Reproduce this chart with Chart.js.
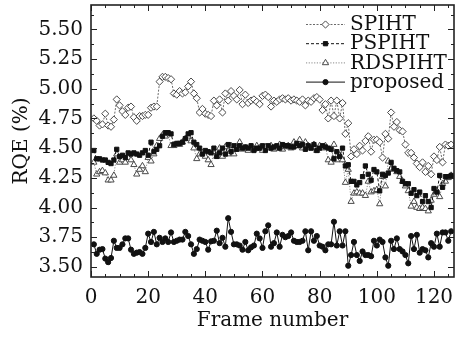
<!DOCTYPE html>
<html>
<head>
<meta charset="utf-8">
<script src="https://cdn.jsdelivr.net/npm/chart.js@4/dist/chart.umd.min.js"></script>
<style>
  html, body { margin: 0; padding: 0; background: #fff; }
  canvas { display: block; }
</style>
</head>
<body>
<canvas id="rqeChart" width="459" height="337"></canvas>
<script>
// RQE per frame
var spiht = [
  4.75, 4.73, 4.69, 4.70, 4.79, 4.69, 4.68, 4.74, 4.91, 4.86,
  4.81, 4.78, 4.84, 4.85, 4.76, 4.73, 4.77, 4.77, 4.78, 4.78,
  4.84, 4.85, 4.85, 5.06, 5.10, 5.10, 5.09, 5.08, 4.96, 4.95,
  4.98, 4.96, 4.97, 5.02, 5.06, 4.96, 4.92, 4.80, 4.83, 4.79,
  4.78, 4.77, 4.90, 4.86, 4.91, 4.80, 4.96, 4.90, 4.98, 4.94,
  4.91, 4.99, 4.87, 4.95, 4.88, 4.90, 4.91, 4.89, 4.87, 4.94,
  4.95, 4.93, 4.85, 4.90, 4.89, 4.91, 4.92, 4.91, 4.92, 4.90,
  4.91, 4.90, 4.89, 4.91, 4.86, 4.90, 4.89, 4.92, 4.93, 4.91,
  4.82, 4.87, 4.75, 4.90, 4.77, 4.90, 4.75, 4.88, 4.62, 4.71,
  4.43, 4.49, 4.45, 4.52, 4.48, 4.56, 4.60, 4.47, 4.57, 4.57,
  4.55, 4.42, 4.62, 4.58, 4.80, 4.68, 4.72, 4.65, 4.64, 4.53,
  4.46, 4.46, 4.42, 4.37, 4.34, 4.38, 4.30, 4.35, 4.28, 4.43,
  4.40, 4.51, 4.38, 4.53, 4.52, 4.53
];

var pspiht = [
  4.48, 4.41, 4.41, 4.40, 4.40, 4.38, 4.37, 4.40, 4.49, 4.43,
  4.44, 4.42, 4.46, 4.45, 4.46, 4.45, 4.44, 4.46, 4.48, 4.44,
  4.55, 4.47, 4.49, 4.52, 4.60, 4.63, 4.63, 4.62, 4.53, 4.54,
  4.54, 4.55, 4.58, 4.62, 4.63, 4.55, 4.53, 4.50, 4.45, 4.48,
  4.47, 4.46, 4.50, 4.43, 4.46, 4.50, 4.45, 4.53, 4.47, 4.52,
  4.49, 4.52, 4.50, 4.51, 4.50, 4.52, 4.48, 4.50, 4.50, 4.52,
  4.48, 4.52, 4.50, 4.51, 4.52, 4.50, 4.53, 4.52, 4.52, 4.51,
  4.51, 4.54, 4.52, 4.53, 4.49, 4.52, 4.50, 4.53, 4.48, 4.50,
  4.52, 4.51, 4.50, 4.49, 4.41, 4.47, 4.43, 4.50, 4.35, 4.36,
  4.22, 4.22, 4.19, 4.21, 4.26, 4.35, 4.28, 4.23, 4.32, 4.30,
  4.14, 4.28, 4.27, 4.29, 4.38, 4.33, 4.31, 4.30, 4.22, 4.20,
  4.20, 4.12, 4.15, 4.10, 4.13, 4.05, 4.10, 4.05, 4.00, 4.16,
  4.13, 4.27, 4.17, 4.26, 4.26, 4.27
];

var rdspiht = [
  4.38, 4.28, 4.30, 4.31, 4.29, 4.23, 4.23, 4.27, 4.45, 4.38,
  4.40, 4.38, 4.42, 4.40, 4.36, 4.28, 4.32, 4.35, 4.30, 4.42,
  4.39, 4.45, 4.52, 4.58, 4.61, 4.60, 4.62, 4.52, 4.52, 4.53,
  4.53, 4.55, 4.58, 4.60, 4.56, 4.50, 4.41, 4.45, 4.46, 4.43,
  4.40, 4.36, 4.47, 4.43, 4.50, 4.43, 4.51, 4.45, 4.52, 4.45,
  4.50, 4.55, 4.49, 4.50, 4.48, 4.51, 4.49, 4.52, 4.50, 4.48,
  4.51, 4.50, 4.52, 4.49, 4.50, 4.53, 4.49, 4.51, 4.52, 4.50,
  4.55, 4.52, 4.57, 4.50, 4.55, 4.52, 4.50, 4.53, 4.48, 4.52,
  4.50, 4.52, 4.40, 4.38, 4.53, 4.40, 4.44, 4.40, 4.21, 4.32,
  4.05, 4.12, 4.13, 4.12, 4.12, 4.10, 4.22, 4.13, 4.14, 4.15,
  4.03, 4.26, 4.18, 4.39, 4.33, 4.32, 4.30, 4.26, 4.22, 4.18,
  4.14, 4.01, 4.05, 4.00, 3.99, 4.00, 3.99, 3.97, 4.06, 4.11,
  4.14, 4.09, 4.20, 4.22, 4.25, 4.27
];

var proposed = [
  3.69, 3.61, 3.645, 3.65, 3.57, 3.54, 3.575, 3.72, 3.66, 3.66,
  3.69, 3.74, 3.74, 3.645, 3.61, 3.62, 3.625, 3.61, 3.66, 3.78,
  3.71, 3.795, 3.69, 3.745, 3.71, 3.74, 3.71, 3.79, 3.71, 3.72,
  3.73, 3.73, 3.795, 3.76, 3.69, 3.61, 3.65, 3.73, 3.72, 3.71,
  3.645, 3.715, 3.72, 3.805, 3.70, 3.745, 3.67, 3.91, 3.795, 3.69,
  3.69, 3.68, 3.645, 3.71, 3.64, 3.665, 3.68, 3.78, 3.74, 3.66,
  3.80, 3.85, 3.67, 3.70, 3.79, 3.67, 3.77, 3.75, 3.76, 3.79,
  3.72, 3.71, 3.71, 3.72, 3.80, 3.64, 3.80, 3.72, 3.76, 3.68,
  3.67, 3.64, 3.69, 3.69, 3.88, 3.68, 3.80, 3.68, 3.80, 3.51,
  3.60, 3.71, 3.60, 3.55, 3.63, 3.60, 3.60, 3.59, 3.72, 3.68,
  3.73, 3.71, 3.58, 3.51, 3.72, 3.65, 3.74, 3.65, 3.63, 3.60,
  3.53, 3.76, 3.65, 3.77, 3.62, 3.65, 3.64, 3.58, 3.70, 3.67,
  3.78, 3.67, 3.79, 3.79, 3.72, 3.80
];

var seriesNames = ["SPIHT", "PSPIHT", "RDSPIHT", "proposed"];
var xTickValues = [0, 20, 40, 60, 80, 100, 120];
var yTickValues = [3.50, 3.75, 4.00, 4.25, 4.50, 4.75, 5.00, 5.25, 5.50];

var FONT = "'DejaVu Serif', 'Liberation Serif', serif";

function toPoints(arr) {
  return arr.map(function (v, i) { return { x: i + 1, y: v }; });
}

var styles = [
  { color: "#6a6a6a", dash: [2, 1.5], pointStyle: "rectRot", radius: 3.6, fill: "#ffffff", pointBorder: "#4a4a4a" },
  { color: "#111111", dash: [3, 2], pointStyle: "rect", radius: 3, fill: "#111111", pointBorder: "#111111" },
  { color: "#8a8a8a", dash: [1.2, 1.5], pointStyle: "triangle", radius: 3.6, fill: "#ffffff", pointBorder: "#4a4a4a" },
  { color: "#111111", dash: [], pointStyle: "circle", radius: 2.6, fill: "#111111", pointBorder: "#111111" }
];

var allSeries = [spiht, pspiht, rdspiht, proposed];

var datasets = allSeries.map(function (arr, i) {
  var s = styles[i];
  return {
    label: seriesNames[i],
    data: toPoints(arr),
    borderColor: s.color,
    borderWidth: 1,
    borderDash: s.dash,
    pointStyle: s.pointStyle,
    pointRadius: s.radius,
    pointBackgroundColor: s.fill,
    pointBorderColor: s.pointBorder,
    pointBorderWidth: 1,
    tension: 0
  };
});

// frame + inward ticks on all four sides
var framePlugin = {
  id: "frame",
  afterDatasetsDraw: function (chart) {
    var ctx = chart.ctx, ca = chart.chartArea;
    var xs = chart.scales.x, ys = chart.scales.y;
    ctx.save();
    ctx.strokeStyle = "#222";
    ctx.lineWidth = 1;
    for (var v = 0; v <= xs.max; v += 5) {
      var px = Math.round(xs.getPixelForValue(v)) + 0.5;
      var len = (v % 20 === 0) ? 6 : 3;
      ctx.beginPath();
      ctx.moveTo(px, ca.bottom); ctx.lineTo(px, ca.bottom - len);
      ctx.moveTo(px, ca.top); ctx.lineTo(px, ca.top + len);
      ctx.stroke();
    }
    for (var k = 0; ; k++) {
      var yv = 3.5 + k * 0.125;
      if (yv > ys.max) break;
      var py = Math.round(ys.getPixelForValue(yv)) + 0.5;
      var ylen = (k % 2 === 0) ? 6 : 3;
      ctx.beginPath();
      ctx.moveTo(ca.left, py); ctx.lineTo(ca.left + ylen, py);
      ctx.moveTo(ca.right, py); ctx.lineTo(ca.right - ylen, py);
      ctx.stroke();
    }
    ctx.lineWidth = 1.6;
    ctx.strokeRect(ca.left, ca.top, ca.right - ca.left, ca.bottom - ca.top);
    ctx.restore();
  }
};

// legend with line sample + marker, inside the top right corner
var legendPlugin = {
  id: "lineLegend",
  afterDraw: function (chart) {
    var ctx = chart.ctx, ca = chart.chartArea;
    ctx.save();
    chart.data.datasets.forEach(function (ds, i) {
      var y = ca.top + 19 + i * 19.2;
      var x0 = ca.right - 148, x1 = ca.right - 109;
      ctx.strokeStyle = ds.borderColor;
      ctx.lineWidth = 1;
      ctx.setLineDash(ds.borderDash);
      ctx.beginPath();
      ctx.moveTo(x0, y + 0.5); ctx.lineTo(x1, y + 0.5);
      ctx.stroke();
      ctx.setLineDash([]);
      ctx.fillStyle = ds.pointBackgroundColor;
      ctx.strokeStyle = ds.pointBorderColor;
      Chart.helpers.drawPoint(ctx, {
        pointStyle: ds.pointStyle, radius: ds.pointRadius, rotation: 0, borderWidth: 1
      }, (x0 + x1) / 2, y + 0.5);
      ctx.fillStyle = "#111";
      ctx.font = "20px " + FONT;
      ctx.textBaseline = "middle";
      ctx.textAlign = "left";
      ctx.fillText(ds.label, ca.right - 104, y + 1);
    });
    ctx.restore();
  }
};

new Chart(document.getElementById("rqeChart").getContext("2d"), {
  type: "line",
  data: { datasets: datasets },
  options: {
    responsive: false,
    animation: false,
    devicePixelRatio: 1,
    layout: { padding: { top: 5, right: 3, left: 0, bottom: 0 } },
    plugins: {
      legend: { display: false },
      tooltip: { enabled: false }
    },
    scales: {
      x: {
        type: "linear",
        min: 0,
        max: 127,
        afterBuildTicks: function (scale) {
          scale.ticks = xTickValues.map(function (v) { return { value: v }; });
        },
        afterFit: function (scale) {
          scale.height = 60;
          scale.paddingLeft = 0;
          scale.paddingRight = 0;
        },
        grid: { display: false, drawTicks: false },
        border: { display: false },
        ticks: {
          padding: 9,
          color: "#111",
          font: { family: FONT, size: 20 },
          maxRotation: 0,
          autoSkip: false
        },
        title: {
          display: true,
          text: "Frame number",
          color: "#111",
          font: { family: FONT, size: 20 },
          padding: { top: 0, bottom: 4 }
        }
      },
      y: {
        min: 3.415,
        max: 5.705,
        afterBuildTicks: function (scale) {
          scale.ticks = yTickValues.map(function (v) { return { value: v }; });
        },
        afterFit: function (scale) {
          scale.width = 91;
          scale.paddingTop = 0;
          scale.paddingBottom = 0;
        },
        grid: { display: false, drawTicks: false },
        border: { display: false },
        ticks: {
          padding: 8,
          color: "#111",
          font: { family: FONT, size: 20 },
          autoSkip: false,
          callback: function (v) { return Number(v).toFixed(2); }
        },
        title: {
          display: true,
          text: "RQE (%)",
          color: "#111",
          font: { family: FONT, size: 20 },
          padding: { top: 10, bottom: 0 }
        }
      }
    }
  },
  plugins: [framePlugin, legendPlugin]
});
</script>
</body>
</html>
